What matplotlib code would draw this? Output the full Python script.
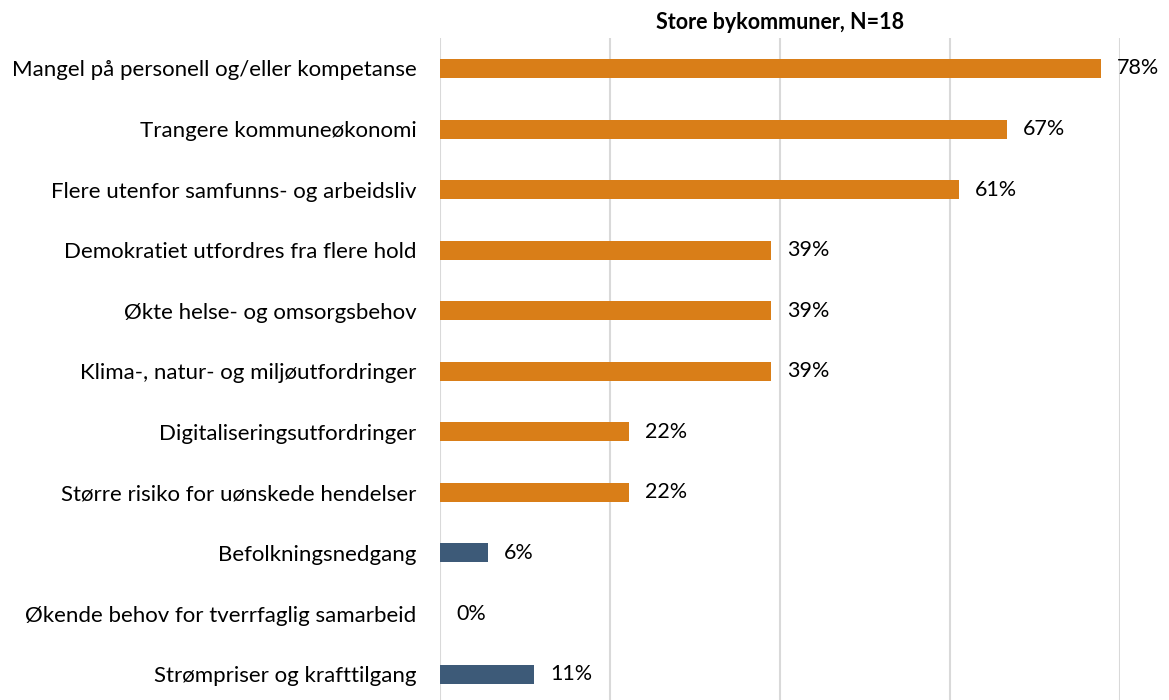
import matplotlib
matplotlib.use("Agg")
import matplotlib.pyplot as plt

categories = [
    "Mangel på personell og/eller kompetanse",
    "Trangere kommuneøkonomi",
    "Flere utenfor samfunns- og arbeidsliv",
    "Demokratiet utfordres fra flere hold",
    "Økte helse- og omsorgsbehov",
    "Klima-, natur- og miljøutfordringer",
    "Digitaliseringsutfordringer",
    "Større risiko for uønskede hendelser",
    "Befolkningsnedgang",
    "Økende behov for tverrfaglig samarbeid",
    "Strømpriser og krafttilgang",
]
values = [77.8, 66.7, 61.1, 38.9, 38.9, 38.9, 22.2, 22.2, 5.6, 0.0, 11.1]
labels = ["78%", "67%", "61%", "39%", "39%", "39%", "22%", "22%", "6%", "0%", "11%"]
groups = ["top", "top", "top", "top", "top", "top", "top", "top", "other", "other", "other"]
title = "Store bykommuner, N=18"
xticks = [0, 20, 40, 60, 80]

colors = {"top": "#D97E18", "other": "#3D5A78"}

plt.rcParams['font.family'] = ['Lato', 'DejaVu Sans']

fig = plt.figure(figsize=(11.69, 7.0), dpi=100)
ax = fig.add_axes([0.3764, -0.0062, 0.5817, 0.9516])

ypos = list(range(len(categories)))
ax.barh(ypos, values, height=0.314, color=[colors[g] for g in groups], zorder=3)
for y, v, lab in zip(ypos, values, labels):
    ax.annotate(lab, (v, y), xytext=(16, 0), textcoords="offset pixels",
                va="center", ha="left", fontsize=15.5, color="#000000", annotation_clip=False)

ax.set_xlim(0, 80)
ax.set_ylim(len(categories) - 0.5, -0.5)
ax.set_xticks(xticks)
ax.xaxis.grid(True, color="#D9D9D9", linewidth=1.5, zorder=0)
ax.set_yticks(ypos)
ax.set_yticklabels(categories, fontsize=16)
ax.tick_params(axis="y", length=0, pad=17)
ax.tick_params(axis="x", length=0, labelbottom=False)
for s in ax.spines.values():
    s.set_visible(False)

fig.text(0.6672, 0.968, title, ha="center", va="center", fontsize=15.5, fontweight="bold")

fig.savefig("out.png", dpi=100)
